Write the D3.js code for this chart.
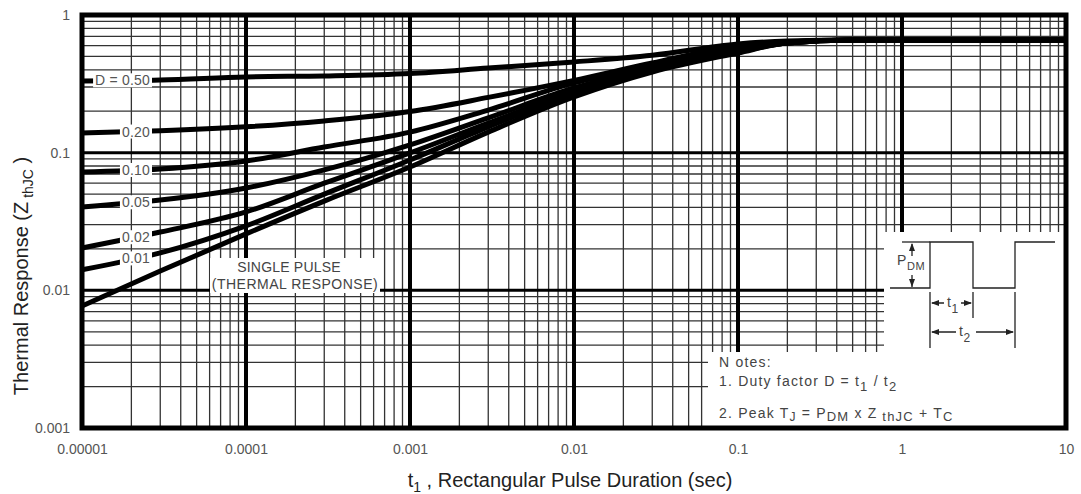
<!DOCTYPE html>
<html><head><meta charset="utf-8">
<script src="https://cdn.jsdelivr.net/npm/d3@7"></script>
<style>
body{margin:0;background:#fff}
svg{display:block}
text{font-family:"Liberation Sans",Arial,Helvetica,sans-serif}
</style>
</head><body>
<svg id="c" width="1081" height="494"></svg>
<script>
// ---- data ----
const times = [1e-5,3e-5,1e-4,3e-4,1e-3,3e-3,1e-2,3e-2,0.1,0.2,0.5,1,10];
const d050 = [0.332,0.337,0.355,0.361,0.376,0.412,0.456,0.510,0.616,0.647,0.658,0.658,0.658];
const d020 = [0.139,0.144,0.154,0.170,0.199,0.252,0.335,0.448,0.596,0.637,0.658,0.658,0.658];
const d010 = [0.0724,0.0761,0.087,0.110,0.141,0.204,0.321,0.426,0.576,0.637,0.658,0.658,0.658];
const d005 = [0.0403,0.0453,0.0554,0.075,0.114,0.179,0.295,0.412,0.557,0.626,0.658,0.658,0.658];
const d002 = [0.0203,0.0265,0.0371,0.060,0.0995,0.164,0.276,0.398,0.548,0.626,0.658,0.658,0.658];
const d001 = [0.0141,0.0187,0.0294,0.050,0.0885,0.154,0.267,0.392,0.539,0.626,0.658,0.658,0.658];
const single = [0.0077,0.0138,0.0257,0.0445,0.0787,0.141,0.254,0.385,0.530,0.626,0.658,0.658,0.658];
const seriesLabels = ["D = 0.50","0.20","0.10","0.05","0.02","0.01",null];
const xTickValues = [1e-5,1e-4,1e-3,1e-2,1e-1,1,10];
const xTickLabels = ["0.00001","0.0001","0.001","0.01","0.1","1","10"];
const yTickValues = [0.001,0.01,0.1,1];
const yTickLabels = ["0.001","0.01","0.1","1"];

// ---- layout ----
const svg = d3.select("#c");
const L = 82, R = 1066, T = 15, B = 428;
const x = d3.scaleLog().domain([1e-5,10]).range([L,R]);
const y = d3.scaleLog().domain([0.001,1]).range([B,T]);

// gridlines
const g = svg.append("g");
const minorX = [], majorX = [];
for (let n=-5;n<=0;n++){ for(let k=2;k<=9;k++) minorX.push(k*Math.pow(10,n)); if(n>-5) majorX.push(Math.pow(10,n)); }
const minorY = [], majorY = [];
for (let n=-3;n<=-1;n++){ for(let k=2;k<=9;k++) minorY.push(k*Math.pow(10,n)); if(n>-3) majorY.push(Math.pow(10,n)); }

g.selectAll(".vx").data(minorX).join("line")
  .attr("x1",d=>x(d)).attr("x2",d=>x(d)).attr("y1",T).attr("y2",B)
  .attr("stroke","#333").attr("stroke-width",1.3);
g.selectAll(".hy").data(minorY).join("line")
  .attr("y1",d=>y(d)).attr("y2",d=>y(d)).attr("x1",L).attr("x2",R)
  .attr("stroke","#333").attr("stroke-width",1.3);
g.selectAll(".VX").data(majorX).join("line")
  .attr("x1",d=>x(d)).attr("x2",d=>x(d)).attr("y1",T).attr("y2",B)
  .attr("stroke","#000").attr("stroke-width",4);
g.selectAll(".HY").data(majorY).join("line")
  .attr("y1",d=>y(d)).attr("y2",d=>y(d)).attr("x1",L).attr("x2",R)
  .attr("stroke","#000").attr("stroke-width",3);

// white boxes (single pulse label, diagram, notes)
svg.append("rect").attr("x",210).attr("y",258).attr("width",170).attr("height",35).attr("fill","#fff");
svg.append("rect").attr("x",884).attr("y",232).attr("width",R-884).attr("height",122).attr("fill","#fff");
svg.append("rect").attr("x",708).attr("y",352).attr("width",R-708).attr("height",B-352).attr("fill","#fff");

// curves
const all = [d050,d020,d010,d005,d002,d001,single];
const line = d3.line().x(d=>x(d[0])).y(d=>y(d[1])).curve(d3.curveMonotoneX);
svg.append("g").selectAll("path").data(all).join("path")
  .attr("d",vals=>line(times.map((t,i)=>[t,vals[i]])))
  .attr("fill","none").attr("stroke","#000").attr("stroke-width",5).attr("stroke-linejoin","round");

// curve labels
function valAt(vals,t){
  const lt=Math.log10(t);
  for(let i=0;i<times.length-1;i++){
    const a=Math.log10(times[i]), b=Math.log10(times[i+1]);
    if(lt>=a && lt<=b){const f=(lt-a)/(b-a); return Math.pow(10,Math.log10(vals[i])+f*(Math.log10(vals[i+1])-Math.log10(vals[i])));}
  }
  return vals[vals.length-1];
}
const labG = svg.append("g");
all.forEach((vals,i)=>{
  if(!seriesLabels[i]) return;
  const yy = y(valAt(vals,2.1e-5));
  const tx = labG.append("text").attr("x",150).attr("y",yy).attr("dy","0.36em")
    .attr("text-anchor","end").attr("font-size",14).attr("fill","#555").attr("letter-spacing",0.2).text(seriesLabels[i]);
  const bb = tx.node().getBBox();
  labG.insert("rect","text").attr("x",bb.x-2).attr("y",yy-7).attr("width",bb.width+4).attr("height",14).attr("fill","#fff");
});
labG.selectAll("text").raise();

svg.append("text").attr("x",289).attr("y",272).attr("text-anchor","middle").attr("font-size",14).attr("letter-spacing",0.2).attr("fill","#444").text("SINGLE PULSE");
svg.append("text").attr("x",295).attr("y",289).attr("text-anchor","middle").attr("font-size",14).attr("letter-spacing",0.5).attr("fill","#444").text("(THERMAL RESPONSE)");

// border
svg.append("rect").attr("x",L).attr("y",T).attr("width",R-L).attr("height",B-T)
  .attr("fill","none").attr("stroke","#000").attr("stroke-width",5);

// axes
const xa = svg.append("g").attr("transform",`translate(0,${B})`)
  .call(d3.axisBottom(x).tickValues(xTickValues).tickSize(0).tickPadding(16).tickFormat((d,i)=>xTickLabels[i]));
xa.select(".domain").remove();
xa.selectAll("text").attr("font-size",14).attr("fill","#555").attr("font-family","Liberation Sans, Arial, sans-serif");
const ya = svg.append("g").attr("transform",`translate(${L},0)`)
  .call(d3.axisLeft(y).tickValues(yTickValues).tickSize(0).tickPadding(12).tickFormat((d,i)=>yTickLabels[i]));
ya.select(".domain").remove();
ya.selectAll("text").attr("font-size",14).attr("fill","#555").attr("font-family","Liberation Sans, Arial, sans-serif");

// axis titles
const xt = svg.append("text").attr("x",570).attr("y",487).attr("text-anchor","middle").attr("font-size",20).attr("fill","#222");
xt.append("tspan").text("t");
xt.append("tspan").attr("font-size",14).attr("dy",5).text("1");
xt.append("tspan").attr("dy",-5).text(" , Rectangular Pulse Duration (sec)");

const yt = svg.append("text").attr("transform","translate(28,276) rotate(-90)").attr("text-anchor","middle").attr("font-size",20).attr("fill","#222");
yt.append("tspan").text("Thermal Response (Z");
yt.append("tspan").attr("font-size",14).attr("dy",5).text(" thJC");
yt.append("tspan").attr("dy",-5).text(" )");

// pulse diagram
const dg = svg.append("g").attr("stroke","#222").attr("stroke-width",1.3).attr("fill","none");
dg.append("path").attr("d","M890,288 H930 V242 H973 V288 H1015 V242 H1055");
dg.append("path").attr("d","M902,242 H930");
dg.append("path").attr("d","M912,244 V256 M912,275 V287");
dg.append("path").attr("d","M930,292 V348 M973,292 V318 M1015,292 V348");
dg.append("path").attr("d","M932,303 H944 M961,303 H971");
dg.append("path").attr("d","M932,332 H956 M976,332 H1013");
const ah = svg.append("g").attr("fill","#222");
ah.append("path").attr("d","M912,243 l-3,8 h6 z");
ah.append("path").attr("d","M912,287 l-3,-8 h6 z");
ah.append("path").attr("d","M931,303 l8,-3 v6 z");
ah.append("path").attr("d","M972,303 l-8,-3 v6 z");
ah.append("path").attr("d","M931,332 l8,-3 v6 z");
ah.append("path").attr("d","M1014,332 l-8,-3 v6 z");

function subText(xp,yp,parts,size,ls){
  const t = svg.append("text").attr("x",xp).attr("y",yp).attr("font-size",size).attr("fill","#444").attr("letter-spacing",ls);
  parts.forEach(p=>{
    if(typeof p==="string") t.append("tspan").attr("dy",0).text(p);
    else t.append("tspan").attr("dy",p.dy).attr("font-size",p.s||size).text(p.t);
  });
  return t;
}
subText(897,265,["P",{t:"DM",dy:5,s:11}],14,0.6);
subText(947,307,["t",{t:"1",dy:6,s:12}],14,0.6);
subText(959,336,["t",{t:"2",dy:6,s:12}],14,0.6);

// notes
subText(719,367,["N otes:"],14,1.2);
subText(719,386,["1. Duty factor D =  t",{t:"1",dy:5,s:13},{t:" / t",dy:-5},{t:"2",dy:5,s:13}],14,1.2);
subText(719,418,["2. Peak T",{t:"J",dy:3,s:12},{t:" = P",dy:-3},{t:"DM",dy:3,s:13},{t:" x Z",dy:-3},{t:" thJC",dy:3,s:13},{t:" + T",dy:-3},{t:"C",dy:3,s:13}],14,1.2);
</script>
</body></html>
